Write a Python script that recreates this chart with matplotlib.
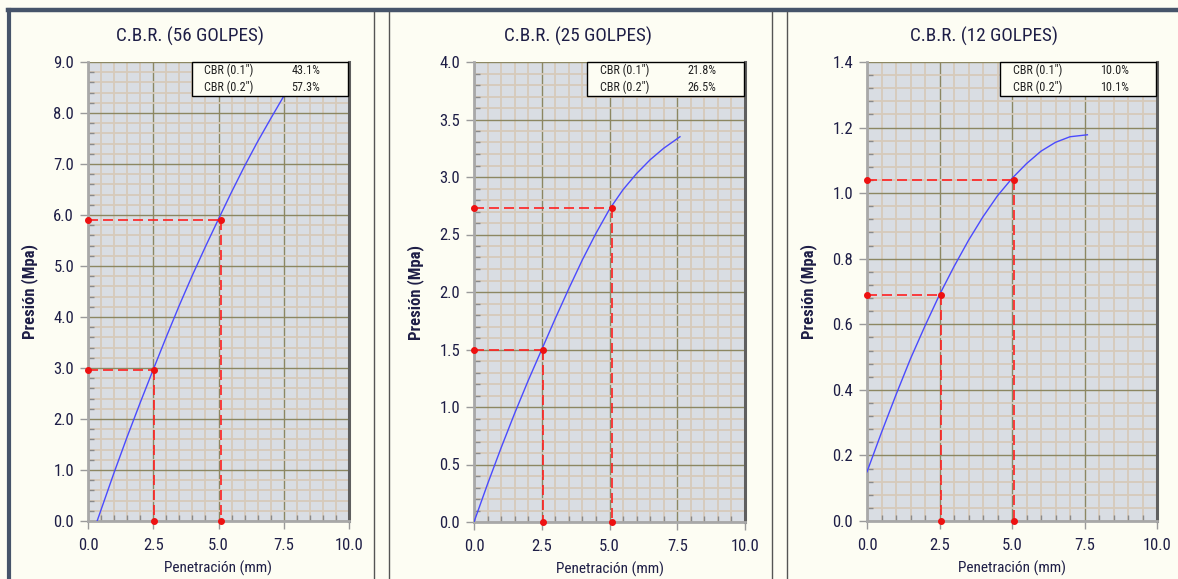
import matplotlib
matplotlib.use("Agg")
import matplotlib.pyplot as plt
import matplotlib.font_manager as fm
from matplotlib.ticker import MultipleLocator, FormatStrFormatter
from matplotlib.patches import Rectangle
from matplotlib.lines import Line2D

plt.rcParams['font.family'] = ['Liberation Sans', 'DejaVu Sans']

# ---------------- data ----------------
titles = ["C.B.R. (56 GOLPES)", "C.B.R. (25 GOLPES)", "C.B.R. (12 GOLPES)"]

pen_56 = [0.35, 0.5, 1.0, 1.5, 2.0, 2.5, 3.0, 3.5, 4.0, 4.5, 5.0, 5.5, 6.0, 6.5, 7.0, 7.5]
pres_56 = [0.0, 0.22, 0.95, 1.65, 2.32, 2.97, 3.61, 4.23, 4.82, 5.38, 5.92, 6.45, 6.96, 7.44, 7.89, 8.33]

pen_25 = [0.0, 0.5, 1.0, 1.5, 2.0, 2.5, 3.0, 3.5, 4.0, 4.5, 5.0, 5.5, 6.0, 6.5, 7.0, 7.6]
pres_25 = [0.0, 0.33, 0.645, 0.945, 1.23, 1.50, 1.77, 2.03, 2.28, 2.51, 2.72, 2.89, 3.03, 3.15, 3.25, 3.35]

pen_12 = [0.0, 0.5, 1.0, 1.5, 2.0, 2.5, 3.0, 3.5, 4.0, 4.5, 5.0, 5.5, 6.0, 6.5, 7.0, 7.6]
pres_12 = [0.15, 0.27, 0.385, 0.495, 0.595, 0.69, 0.776, 0.856, 0.928, 0.992, 1.045, 1.09, 1.128, 1.155, 1.172, 1.178]

cbr_pen = [2.54, 5.08]
cbr_pres_56 = [2.97, 5.90]
cbr_pres_25 = [1.50, 2.73]
cbr_pres_12 = [0.69, 1.04]

cbr_labels = ['CBR (0.1")', 'CBR (0.2")']
cbr_vals_56 = ["43.1%", "57.3%"]
cbr_vals_25 = ["21.8%", "26.5%"]
cbr_vals_12 = ["10.0%", "10.1%"]

ymax = [9.0, 4.0, 1.4]
ymaj = [1.0, 0.5, 0.2]
ymin = [0.2, 0.1, 0.04]

series = [(pen_56, pres_56, cbr_pres_56, cbr_vals_56),
          (pen_25, pres_25, cbr_pres_25, cbr_vals_25),
          (pen_12, pres_12, cbr_pres_12, cbr_vals_12)]

# ---------------- narrow font lookup ----------------
STRETCH = {'ultra-condensed': 100, 'extra-condensed': 200, 'condensed': 300,
           'semi-condensed': 400, 'normal': 500}
PREF = ['Liberation Sans Narrow', 'Arial Narrow', 'Roboto Condensed', 'Noto Sans',
        'Open Sans', 'DejaVu Sans', 'Lato', 'Roboto', 'Inter']


def weight_num(w):
    if isinstance(w, (int, float)):
        return w
    return {'normal': 400, 'regular': 400, 'book': 400, 'medium': 500, 'semibold': 600,
            'demibold': 600, 'bold': 700, 'heavy': 800, 'black': 900, 'light': 300}.get(str(w).lower(), 400)


def find_narrow(bold=False):
    best, best_key = None, None
    for f in fm.fontManager.ttflist:
        nm, fn = f.name, f.fname
        if any(k in nm or k in fn for k in ('Mono', 'Serif', 'CJK', 'Math')):
            continue
        st = f.stretch
        stv = st if isinstance(st, (int, float)) else STRETCH.get(st, 500)
        narrow = ('Narrow' in nm or 'Condensed' in nm or 'Narrow' in fn
                  or 'Condensed' in fn or stv < 500)
        if not narrow or f.style != 'normal':
            continue
        w = weight_num(f.weight)
        target = 700 if bold else 400
        rank = next((k for k, p in enumerate(PREF) if nm.startswith(p)), len(PREF))
        key = (rank, abs(w - target), 'Semi' in fn, 'Extra' in fn or 'Ultra' in fn)
        if best_key is None or key < best_key:
            best, best_key = f, key
    if best is None:
        return fm.FontProperties(family=['Liberation Sans', 'DejaVu Sans'],
                                 weight='bold' if bold else 'normal')
    return fm.FontProperties(fname=best.fname)


fp_reg = find_narrow(False)
fp_bold = find_narrow(True)


def fp(base, size):
    p = base.copy()
    p.set_size(size)
    return p

# ---------------- layout ----------------
W, H = 1178, 579
fig = plt.figure(figsize=(W / 100, H / 100), dpi=100)
fig.patch.set_facecolor("#fdfdf3")


def px(x0, y0, x1, y1):
    return [x0 / W, 1 - y1 / H, (x1 - x0) / W, (y1 - y0) / H]


rects = [px(88, 62, 349, 521), px(474, 62, 745, 522), px(867, 62, 1157, 521)]
box_left = [0.398, 0.417, 0.459]
box_right = [0.995, 0.997, 0.995]
title_x = [190, 578, 984]

frame_col = "#46546a"
fig.add_artist(Line2D([8 / W, 1.0], [1 - 10 / H, 1 - 10 / H], color=frame_col, lw=3.2,
                      transform=fig.transFigure))
fig.add_artist(Line2D([9 / W, 9 / W], [0, 1 - 10 / H], color=frame_col, lw=3.0,
                      transform=fig.transFigure))
for xs in [374, 389, 772, 787]:
    fig.add_artist(Line2D([xs / W, xs / W], [0, 1 - 12 / H], color="#555555", lw=1.0,
                          transform=fig.transFigure))

text_col = "#1e1e46"

for i, (pen, pres, cp, cv) in enumerate(series):
    ax = fig.add_axes(rects[i])
    ax.set_facecolor("#d9dde3")
    ax.set_xlim(0, 10)
    ax.set_ylim(0, ymax[i])
    ax.xaxis.set_major_locator(MultipleLocator(2.5))
    ax.xaxis.set_minor_locator(MultipleLocator(0.5))
    ax.yaxis.set_major_locator(MultipleLocator(ymaj[i]))
    ax.yaxis.set_minor_locator(MultipleLocator(ymin[i]))
    ax.xaxis.set_major_formatter(FormatStrFormatter("%.1f"))
    ax.yaxis.set_major_formatter(FormatStrFormatter("%.1f"))
    ax.grid(which="minor", color="#d6cabb", lw=1.3, zorder=0)
    ax.grid(which="major", color="#8c8762", lw=1.0, zorder=0)
    ax.set_axisbelow(True)
    for s in ["left", "bottom"]:
        ax.spines[s].set_color("#a8a8a8")
        ax.spines[s].set_linewidth(2.0)
    ax.spines["right"].set_color("#5f5f5f")
    ax.spines["right"].set_linewidth(2.2)
    ax.spines["top"].set_visible(False)
    ax.tick_params(which="major", direction="out", length=6, width=1, color="#9a9a9a",
                   labelcolor=text_col, pad=6)
    ax.tick_params(which="minor", direction="in", length=4, width=1, color="#8a8a8a")
    ax.tick_params(axis="y", which="major", pad=4)
    for lab in ax.get_xticklabels() + ax.get_yticklabels():
        lab.set_fontproperties(fp(fp_reg, 12))

    ax.plot(pen, pres, color="#4a4aff", lw=1.0, zorder=4)

    for xp, yp in zip(cbr_pen, cp):
        ax.plot([0, xp], [yp, yp], color="#ff2020", lw=1.2, ls=(0, (6, 3)), zorder=5, clip_on=False)
        ax.plot([xp, xp], [yp, 0], color="#ff2020", lw=1.2, ls=(0, (6, 3)), zorder=5, clip_on=False)
        ax.plot([0, xp, xp], [yp, yp, 0], ls="none", marker="o", ms=4, color="#ee1111",
                zorder=6, clip_on=False)

    ax.set_xlabel("Penetración (mm)", fontproperties=fp(fp_reg, 11), color=text_col, labelpad=6)
    ax.set_ylabel("Presión (Mpa)", fontproperties=fp(fp_bold, 12), color=text_col, labelpad=11)

    fig.text(title_x[i] / W, 1 - 36 / H, titles[i], ha="center", va="center",
             fontproperties=fp(fp_reg, 13.8), color=text_col)

    b0, b1 = box_left[i], box_right[i]
    ax.add_patch(Rectangle((b0, 0.926), b1 - b0, 0.074, transform=ax.transAxes,
                           facecolor="#fdfdf3", edgecolor="black", lw=1.0, zorder=7, clip_on=False))
    wbox = b1 - b0
    for r, (lab, val) in enumerate(zip(cbr_labels, cv)):
        yy = 0.981 - r * 0.036
        ax.text(b0 + 0.08 * wbox, yy, lab, transform=ax.transAxes, fontproperties=fp(fp_reg, 8.7),
                color="#202020", va="center", ha="left", zorder=9)
        ax.text(b0 + 0.64 * wbox, yy, val, transform=ax.transAxes, fontproperties=fp(fp_reg, 8.7),
                color="#202020", va="center", ha="left", zorder=9)

fig.savefig("out.png", dpi=100, facecolor=fig.get_facecolor())
